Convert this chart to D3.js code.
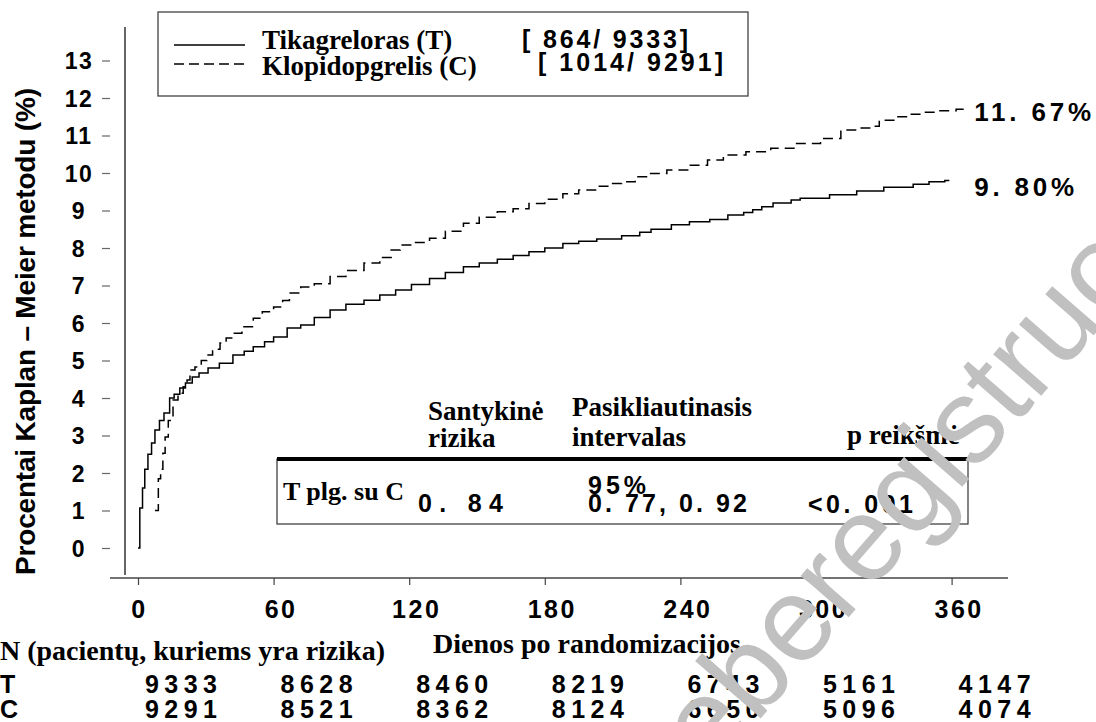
<!DOCTYPE html>
<html>
<head>
<meta charset="utf-8">
<script src="https://cdn.jsdelivr.net/npm/d3@7"></script>
<style>
body{margin:0;background:#fff;}
svg{display:block;}
.sans{font-family:"Liberation Sans",Arial,sans-serif;font-weight:bold;fill:#000;}
.serif{font-family:"Liberation Serif","Times New Roman",serif;font-weight:bold;fill:#000;}
</style>
</head>
<body>
<svg id="chart" width="1096" height="722"></svg>
<script>
// Kaplan-Meier values (day, %)
const days_T = [0, 0.8, 2, 3, 4.4, 6, 7.5, 9.5, 11.5, 14, 16, 18.5, 21, 24, 27, 31, 36, 42, 47, 51, 56, 60, 66, 72,
  78, 85, 92, 100, 107, 114, 121, 129, 136, 144, 151, 159, 166, 173, 180, 188, 195, 203,
  214, 222, 227, 236, 244, 253, 261, 268, 272, 276, 281, 289, 293, 306, 318, 330, 343, 350, 357, 359];
const pct_T = [0, 1.07, 1.6, 2.1, 2.5, 2.8, 3.15, 3.4, 3.6, 4.0, 4.1, 4.27, 4.4, 4.56, 4.67, 4.8, 4.93, 5.15, 5.25, 5.37, 5.5, 5.63, 5.87, 5.95,
  6.15, 6.35, 6.5, 6.61, 6.75, 6.88, 7.03, 7.19, 7.35, 7.5, 7.6, 7.7, 7.8, 7.9, 8.0, 8.12, 8.18, 8.24,
  8.33, 8.42, 8.5, 8.62, 8.7, 8.76, 8.88, 8.95, 9.02, 9.1, 9.2, 9.28, 9.33, 9.42, 9.52, 9.62, 9.7, 9.77, 9.8, 9.8];

const days_C = [7.5, 9, 10, 11, 12, 13.4, 15.5, 17.7, 20, 21.7, 23, 25.2, 28, 30.5, 33, 36.3, 39, 42, 46, 51, 55, 60, 64, 67, 72,
  78, 85, 92, 100, 107, 112, 116, 122, 129, 136, 144, 151, 159, 166, 173, 180, 188, 195, 203,
  210, 214, 220, 225, 234, 244, 252, 259, 269, 280, 291, 302, 311, 318, 325, 328, 335, 341, 347, 354, 362, 367];
const pct_C = [1.0, 1.85, 2.1, 2.53, 2.96, 3.4, 3.95, 4.13, 4.3, 4.48, 4.75, 4.83, 5.0, 5.15, 5.3, 5.47, 5.6, 5.73, 5.9, 6.13, 6.3, 6.43, 6.6, 6.8, 6.96,
  7.05, 7.24, 7.4, 7.6, 7.75, 7.95, 8.08, 8.15, 8.26, 8.45, 8.66, 8.82, 8.97, 9.05, 9.19, 9.3, 9.45, 9.55, 9.65,
  9.72, 9.77, 9.9, 9.99, 10.08, 10.21, 10.35, 10.48, 10.57, 10.66, 10.79, 10.92, 11.15, 11.2, 11.25, 11.41, 11.5, 11.57, 11.62, 11.66, 11.7, 11.7];

const x_ticks = [0, 60, 120, 180, 240, 300, 360];
const y_ticks = [0, 1, 2, 3, 4, 5, 6, 7, 8, 9, 10, 11, 12, 13];

const series_names = ["Tikagreloras (T)", "Klopidopgrelis (C)"];
const series_counts = ["[ 864/ 9333]", "[ 1014/ 9291]"];
const end_labels = ["9. 80%", "11. 67%"];

const risk_groups = ["T", "C"];
const risk_T = [9333, 8628, 8460, 8219, 6743, 5161, 4147];
const risk_C = [9291, 8521, 8362, 8124, 6650, 5096, 4074];

const hr_headers = [["Santykinė", "rizika"], ["Pasikliautinasis", "intervalas"], ["p reikšmė"]];
const hr_row = ["T plg. su C", "0. 84", "95%", "0. 77, 0. 92", "<0. 001"];

const svg = d3.select("#chart");
const x = d3.scaleLinear().domain([0, 360]).range([138, 951.6]);
const y = d3.scaleLinear().domain([0, 13]).range([548, 60.5]);

// bold numbers spread out to a given width
function spaced(px, py, str, size, width) {
  return svg.append("text").attr("class", "sans").attr("x", px).attr("y", py)
    .style("font-size", size + "px")
    .attr("textLength", width).attr("lengthAdjust", "spacing").text(str);
}

// axes
svg.append("line").attr("x1", 125).attr("x2", 125).attr("y1", 27).attr("y2", 575)
  .attr("stroke", "#666").attr("stroke-width", 2);
svg.append("line").attr("x1", 110).attr("x2", 1008).attr("y1", 578).attr("y2", 578)
  .attr("stroke", "#444").attr("stroke-width", 1.6);

let gy = svg.append("g").attr("transform", "translate(110,0)")
  .call(d3.axisLeft(y).tickValues(y_ticks).tickSize(8).tickFormat(d3.format("d")));
gy.select(".domain").remove();
gy.selectAll(".tick line").attr("stroke", "#666").attr("stroke-width", 1.2);
gy.selectAll(".tick text").attr("class", "sans").attr("x", -31).attr("dy", "0.36em")
  .attr("text-anchor", "middle").style("font-size", "23px").style("letter-spacing", "1.5px");

let gx = svg.append("g").attr("transform", "translate(0,578)")
  .call(d3.axisBottom(x).tickValues(x_ticks).tickSize(7).tickFormat(d3.format("d")));
gx.select(".domain").remove();
gx.selectAll(".tick line").attr("stroke", "#444").attr("stroke-width", 1.2);
gx.selectAll(".tick text").attr("class", "sans").attr("y", 40).attr("dy", 0)
  .attr("x", d => d === 0 ? 1 : 7)
  .attr("text-anchor", "middle").style("font-size", "25px").style("letter-spacing", "2.5px");

// axis titles
svg.append("text").attr("class", "sans")
  .attr("transform", "translate(35,331.5) rotate(-90)")
  .attr("text-anchor", "middle").style("font-size", "28px")
  .attr("textLength", 487).attr("lengthAdjust", "spacing")
  .text("Procentai Kaplan – Meier metodu (%)");
svg.append("text").attr("class", "serif").attr("x", 433).attr("y", 653)
  .style("font-size", "28px").text("Dienos po randomizacijos");

// curves
const line = d3.line().curve(d3.curveStepAfter).x(d => x(d[0])).y(d => y(d[1]));
const dataT = d3.zip(days_T, pct_T);
const dataC = d3.zip(days_C, pct_C);
svg.append("path").datum(dataT).attr("d", line)
  .attr("fill", "none").attr("stroke", "#000").attr("stroke-width", 1.5);
svg.append("path").datum(dataC).attr("d", line)
  .attr("fill", "none").attr("stroke", "#000").attr("stroke-width", 1.5)
  .attr("stroke-dasharray", "10,6");

// end labels
spaced(x(370), y(pct_T[pct_T.length - 1]) + 15, end_labels[0], 26, 100);
spaced(x(370), y(pct_C[pct_C.length - 1]) + 12, end_labels[1], 26, 117);

// legend
svg.append("rect").attr("x", 158).attr("y", 12).attr("width", 590).attr("height", 84)
  .attr("fill", "#fff").attr("stroke", "#333").attr("stroke-width", 1.2);
svg.append("line").attr("x1", 174).attr("x2", 245).attr("y1", 45).attr("y2", 45)
  .attr("stroke", "#000").attr("stroke-width", 1.3);
svg.append("line").attr("x1", 174).attr("x2", 245).attr("y1", 64).attr("y2", 64)
  .attr("stroke", "#000").attr("stroke-width", 1.3).attr("stroke-dasharray", "10,5");
svg.append("text").attr("class", "serif").attr("x", 262).attr("y", 49).style("font-size", "27px").text(series_names[0]);
svg.append("text").attr("class", "serif").attr("x", 262).attr("y", 75).style("font-size", "27px").text(series_names[1]);
spaced(522, 48, series_counts[0], 25, 166);
spaced(538, 71, series_counts[1], 25, 185);

// hazard ratio table
svg.append("rect").attr("x", 277).attr("y", 459).attr("width", 691).attr("height", 65)
  .attr("fill", "none").attr("stroke", "#333").attr("stroke-width", 1.2);
svg.append("line").attr("x1", 277).attr("x2", 968).attr("y1", 459).attr("y2", 459)
  .attr("stroke", "#000").attr("stroke-width", 4);
const headX = [428, 572, 847];
const headY = [[420, 447], [416, 446], [444]];
hr_headers.forEach((h, i) => {
  h.forEach((t, j) => {
    svg.append("text").attr("class", "serif").attr("x", headX[i]).attr("y", headY[i][j])
      .style("font-size", "27px").text(t);
  });
});
svg.append("text").attr("class", "serif").attr("x", 283).attr("y", 500).style("font-size", "26px").text(hr_row[0]);
const cellX = [418, 588, 588, 808];
const cellY = [512, 494, 512, 513];
const cellW = [85, 58, 159, 105];
hr_row.slice(1).forEach((t, i) => spaced(cellX[i], cellY[i], t, 25, cellW[i]));

// numbers at risk
svg.append("text").attr("class", "serif").attr("x", 0).attr("y", 660).style("font-size", "28px")
  .text("N (pacientų, kuriems yra rizika)");
[risk_T, risk_C].forEach((row, r) => {
  let yy = r === 0 ? 693 : 718;
  svg.append("text").attr("class", "sans").attr("x", 0).attr("y", yy).style("font-size", "25px").text(risk_groups[r]);
  row.forEach((n, i) => spaced(x(x_ticks[i]) + 7, yy, n, 25, 72));
});

// watermark
svg.append("text").attr("transform", "translate(668,825) rotate(-49)")
  .style("font-family", "'Liberation Sans',Arial,sans-serif").style("font-size", "120px")
  .attr("fill", "#c0c0c0").text("neberegistruotas");
</script>
</body>
</html>
